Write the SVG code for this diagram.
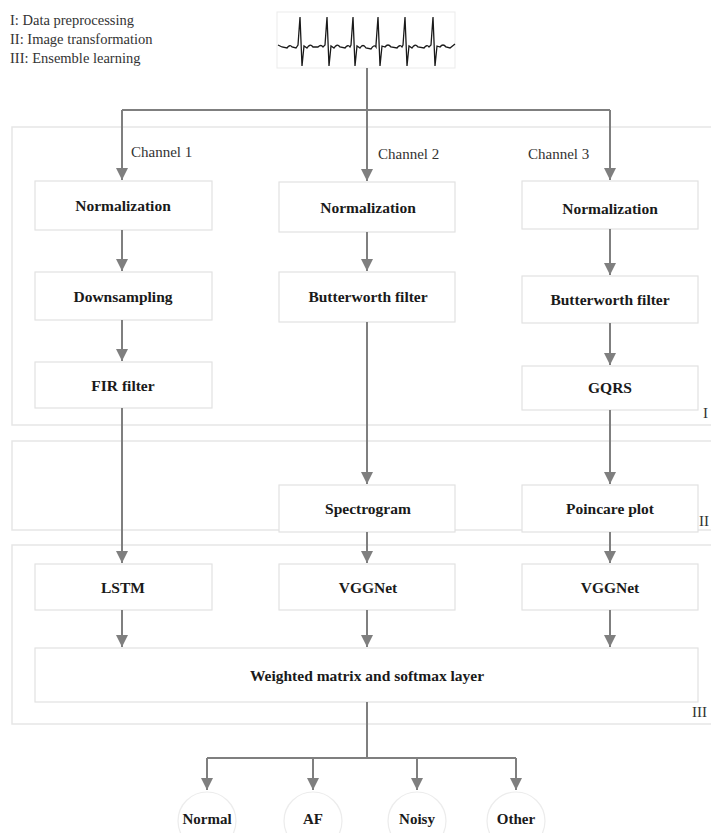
<svg xmlns="http://www.w3.org/2000/svg" width="711" height="833" viewBox="0 0 711 833">
<defs>
<marker id="ah" markerUnits="userSpaceOnUse" markerWidth="12" markerHeight="12" refX="10" refY="5" orient="auto" viewBox="0 0 10 10">
<path d="M0,0 L10,5 L0,10 Z" fill="#7f7f7f"/>
</marker>
</defs>
<style>
.sec{fill:none;stroke:#e6e6e6;stroke-width:1.5}
.box{fill:#fff;stroke:#e2e2e2;stroke-width:1.2}
.lbl{font-family:"Liberation Serif",serif;font-weight:bold;font-size:15.5px;fill:#1a1a1a;text-anchor:middle}
.txt{font-family:"Liberation Serif",serif;font-size:15px;fill:#333}
.c{fill:#fff;stroke:#ececec;stroke-width:1.2}
.ln{fill:none;stroke:#7f7f7f;stroke-width:2}
.ar{fill:none;stroke:#7f7f7f;stroke-width:2;marker-end:url(#ah)}
</style>
<rect width="711" height="833" fill="#fff"/>
<g id="sections">
<rect class="sec" x="12" y="127" width="710" height="298"/>
<rect class="sec" x="12" y="441" width="710" height="89"/>
<rect class="sec" x="12" y="545" width="710" height="179"/>
<text class="txt" x="703" y="418">I</text>
<text class="txt" x="699" y="526">II</text>
<text class="txt" x="692" y="717">III</text>
</g>
<g id="legend">
<text class="txt" x="10" y="25" style="font-size:14.5px">I: Data preprocessing</text>
<text class="txt" x="10" y="44" style="font-size:14.5px">II: Image transformation</text>
<text class="txt" x="10" y="63" style="font-size:14.5px">III: Ensemble learning</text>
</g>
<g id="ecg">
<rect x="277" y="12" width="178" height="56" fill="#fff" stroke="#ebebeb" stroke-width="1"/>
<path fill="none" stroke="#1a1a1a" stroke-width="1.3" d="M278,45 L282,47 L287,48 Q290,44 292,47 L296,48 L298,45 L300,17 L302,66 L304,46 L307,48 Q310,43 313,47 L318,47 Q321,44 323,47 L325,45 L327,17 L329,66 L331,46 L334,48 Q337,43 340,47 L345,48 Q348,44 350,47 L351,45 L353,17 L355,66 L357,46 L360,48 Q363,43 366,48 L371,49 Q374,44 376,47 L376,45 L378,17 L380,66 L382,46 L385,47 Q388,43 391,47 L397,48 Q400,44 402,47 L403,45 L405,17 L407,66 L409,46 L412,48 Q415,43 418,47 L424,48 Q427,44 429,47 L431,45 L433,17 L435,66 L437,46 L440,47 Q443,43 446,47 L450,48 L455,44"/>
</g>
<g id="channel-labels">
<text class="txt" x="131" y="157">Channel 1</text>
<text class="txt" x="378" y="159">Channel 2</text>
<text class="txt" x="528" y="159">Channel 3</text>
</g>
<g id="n1"><rect class="box" x="35" y="181" width="177" height="49"/><text class="lbl" x="123" y="211">Normalization</text></g>
<g id="n2"><rect class="box" x="35" y="272" width="177" height="48"/><text class="lbl" x="123" y="302">Downsampling</text></g>
<g id="n3"><rect class="box" x="35" y="362" width="177" height="46"/><text class="lbl" x="123" y="391">FIR filter</text></g>
<g id="n4"><rect class="box" x="35" y="564" width="177" height="46"/><text class="lbl" x="123" y="593">LSTM</text></g>
<g id="n5"><rect class="box" x="279" y="182" width="176" height="50"/><text class="lbl" x="368" y="213">Normalization</text></g>
<g id="n6"><rect class="box" x="279" y="272" width="176" height="50"/><text class="lbl" x="368" y="302">Butterworth filter</text></g>
<g id="n7"><rect class="box" x="279" y="485" width="176" height="47"/><text class="lbl" x="368" y="514">Spectrogram</text></g>
<g id="n8"><rect class="box" x="279" y="564" width="176" height="46"/><text class="lbl" x="368" y="593">VGGNet</text></g>
<g id="n9"><rect class="box" x="522" y="181" width="176" height="48"/><text class="lbl" x="610" y="214">Normalization</text></g>
<g id="n10"><rect class="box" x="522" y="276" width="176" height="47"/><text class="lbl" x="610" y="305">Butterworth filter</text></g>
<g id="n11"><rect class="box" x="522" y="366" width="176" height="44"/><text class="lbl" x="610" y="393">GQRS</text></g>
<g id="n12"><rect class="box" x="522" y="485" width="176" height="47"/><text class="lbl" x="610" y="514">Poincare plot</text></g>
<g id="n13"><rect class="box" x="522" y="564" width="176" height="46"/><text class="lbl" x="610" y="593">VGGNet</text></g>
<g id="n14"><rect class="box" x="35" y="648" width="663" height="54"/><text class="lbl" x="367" y="681">Weighted matrix and softmax layer</text></g>
<g id="o1"><circle class="c" cx="207" cy="821" r="29"/><text class="lbl" x="207" y="824" style="font-size:15px">Normal</text></g>
<g id="o2"><circle class="c" cx="313" cy="821" r="29"/><text class="lbl" x="313" y="824" style="font-size:15px">AF</text></g>
<g id="o3"><circle class="c" cx="417" cy="821" r="29"/><text class="lbl" x="417" y="824" style="font-size:15px">Noisy</text></g>
<g id="o4"><circle class="c" cx="516" cy="821" r="29"/><text class="lbl" x="516" y="824" style="font-size:15px">Other</text></g>
<g id="connectors">
<path class="ln" d="M367,68 V110 M122,110 H610"/>
<path class="ar" d="M122,110 V180"/>
<path class="ar" d="M367,110 V181"/>
<path class="ar" d="M610,110 V180"/>
<path class="ar" d="M122,230 V271"/>
<path class="ar" d="M122,320 V361"/>
<path class="ar" d="M122,408 V563"/>
<path class="ar" d="M122,610 V647"/>
<path class="ar" d="M367,232 V271"/>
<path class="ar" d="M367,322 V484"/>
<path class="ar" d="M367,532 V563"/>
<path class="ar" d="M367,610 V647"/>
<path class="ar" d="M610,229 V275"/>
<path class="ar" d="M610,323 V365"/>
<path class="ar" d="M610,410 V484"/>
<path class="ar" d="M610,532 V563"/>
<path class="ar" d="M610,610 V647"/>
<path class="ln" d="M367,702 V758 M207,758 H516"/>
<path class="ar" d="M207,758 V790"/>
<path class="ar" d="M313,758 V790"/>
<path class="ar" d="M417,758 V790"/>
<path class="ar" d="M516,758 V790"/>
</g>
</svg>
